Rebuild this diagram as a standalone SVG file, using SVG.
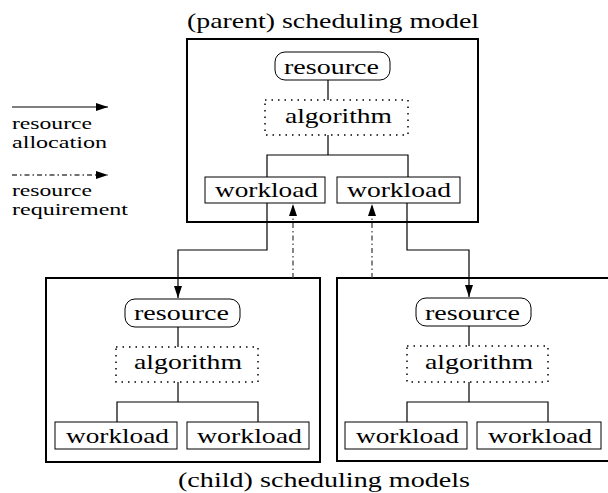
<svg xmlns="http://www.w3.org/2000/svg" width="608" height="493" viewBox="0 0 608 493">
<defs>
<style>
text{font-family:"Liberation Serif","Times New Roman",serif;fill:#000}
.t{font-size:22px}
.lg{font-size:16px}
.box{fill:none;stroke:#000;stroke-width:2}
.res{fill:#fff;stroke:#000;stroke-width:1}
.alg{fill:none;stroke:#000;stroke-width:1.5;stroke-dasharray:1.5 5}
.wl{fill:#fff;stroke:#000;stroke-width:1}
.ln{fill:none;stroke:#000;stroke-width:1.2}
.dd{fill:none;stroke:#444;stroke-width:1.3;stroke-dasharray:5 3 1.5 3}
</style>
<marker id="ah" markerUnits="userSpaceOnUse" markerWidth="12" markerHeight="8" refX="12" refY="4" orient="auto">
<path d="M0,0 L12,4 L0,8 z" fill="#000"/>
</marker>
</defs>
<rect width="608" height="493" fill="#fff"/>

<g id="legend">
<line class="ln" x1="12" y1="107" x2="108" y2="107" marker-end="url(#ah)"/>
<text class="lg" x="12" y="129" textLength="80" lengthAdjust="spacingAndGlyphs">resource</text>
<text class="lg" x="12" y="148" textLength="95" lengthAdjust="spacingAndGlyphs">allocation</text>
<line class="dd" x1="12" y1="175" x2="108" y2="175" marker-end="url(#ah)"/>
<text class="lg" x="12" y="196" textLength="80" lengthAdjust="spacingAndGlyphs">resource</text>
<text class="lg" x="12" y="215" textLength="116" lengthAdjust="spacingAndGlyphs">requirement</text>
</g>

<g id="parent">
<text class="t" x="187" y="28" textLength="292" lengthAdjust="spacingAndGlyphs">(parent) scheduling model</text>
<rect class="box" x="187" y="39" width="291" height="183"/>
</g>
<g id="p-resource"><rect class="res" x="275" y="52" width="115" height="28" rx="10"/><text class="t" x="284" y="74" textLength="95" lengthAdjust="spacingAndGlyphs">resource</text></g>
<g id="p-algorithm"><rect class="alg" x="265" y="100" width="143" height="35"/><text class="t" x="285" y="123" textLength="107" lengthAdjust="spacingAndGlyphs">algorithm</text></g>
<g id="p-workload1"><rect class="wl" x="205" y="177" width="120" height="26"/><text class="t" x="215" y="197" textLength="103" lengthAdjust="spacingAndGlyphs">workload</text></g>
<g id="p-workload2"><rect class="wl" x="337" y="177" width="123" height="26"/><text class="t" x="347" y="197" textLength="104" lengthAdjust="spacingAndGlyphs">workload</text></g>

<g id="child1"><rect class="box" x="46" y="278" width="274" height="184"/></g>
<g id="c1-resource"><rect class="res" x="125" y="299" width="115" height="28" rx="10"/><text class="t" x="134" y="320" textLength="95" lengthAdjust="spacingAndGlyphs">resource</text></g>
<g id="c1-algorithm"><rect class="alg" x="116" y="347" width="142" height="35"/><text class="t" x="134" y="369" textLength="108" lengthAdjust="spacingAndGlyphs">algorithm</text></g>
<g id="c1-workload1"><rect class="wl" x="55" y="422" width="122" height="27"/><text class="t" x="66" y="443" textLength="103" lengthAdjust="spacingAndGlyphs">workload</text></g>
<g id="c1-workload2"><rect class="wl" x="187" y="422" width="122" height="27"/><text class="t" x="197" y="443" textLength="105" lengthAdjust="spacingAndGlyphs">workload</text></g>

<g id="child2"><rect class="box" x="337" y="278" width="280" height="183"/></g>
<g id="c2-resource"><rect class="res" x="416" y="298" width="115" height="28" rx="10"/><text class="t" x="425" y="320" textLength="95" lengthAdjust="spacingAndGlyphs">resource</text></g>
<g id="c2-algorithm"><rect class="alg" x="407" y="346" width="141" height="36"/><text class="t" x="425" y="369" textLength="108" lengthAdjust="spacingAndGlyphs">algorithm</text></g>
<g id="c2-workload1"><rect class="wl" x="345" y="422" width="122" height="27"/><text class="t" x="356" y="443" textLength="103" lengthAdjust="spacingAndGlyphs">workload</text></g>
<g id="c2-workload2"><rect class="wl" x="477" y="422" width="124" height="27"/><text class="t" x="488" y="443" textLength="104" lengthAdjust="spacingAndGlyphs">workload</text></g>

<text class="t" x="178" y="487" textLength="292" lengthAdjust="spacingAndGlyphs">(child) scheduling models</text>

<g id="connectors">
<path class="ln" d="M328 80 V100 M328 135 V155 M267 177 V155 H408 V177"/>
<path class="ln" d="M178 327 V347 M178 382 V402 M117 422 V402 H258 V422"/>
<path class="ln" d="M469 326 V346 M469 382 V402 M407 422 V402 H548 V422"/>
<path class="ln" d="M267 203 V250 H178 V298" marker-end="url(#ah)"/>
<path class="ln" d="M407 203 V250 H469 V297" marker-end="url(#ah)"/>
<path class="dd" d="M293 278 V204" marker-end="url(#ah)"/>
<path class="dd" d="M372 278 V204" marker-end="url(#ah)"/>
</g>
</svg>
